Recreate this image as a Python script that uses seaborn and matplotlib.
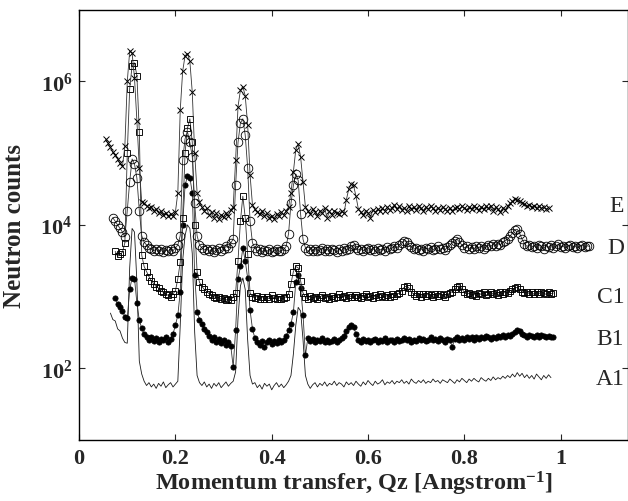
import numpy as np
import pandas as pd
import matplotlib
matplotlib.use("Agg")
import matplotlib.pyplot as plt
from matplotlib.ticker import NullLocator, FixedLocator
import seaborn as sns

# ---------------- data (log10 of neutron counts) ----------------
STEP = 0.005

E_start = 0.055
E_log = [
    5.20, 5.14, 5.08, 5.02, 4.97, 4.92, 4.86, 4.82, 5.10, 6.00,
    6.42, 6.40, 6.05, 5.45, 4.80, 4.32, 4.30, 4.27, 4.24, 4.25,
    4.20, 4.22, 4.17, 4.19, 4.14, 4.17, 4.12, 4.15, 4.12, 4.18,
    4.45, 5.60, 6.14, 6.36, 6.39, 6.28, 5.85, 5.00, 4.45, 4.32,
    4.25, 4.20, 4.23, 4.14, 4.18, 4.10, 4.16, 4.08, 4.14, 4.11,
    4.17, 4.13, 4.21, 4.25, 4.90, 5.65, 5.88, 5.93, 5.80, 5.40,
    4.70, 4.28, 4.22, 4.18, 4.15, 4.20, 4.12, 4.16, 4.10, 4.13,
    4.08, 4.15, 4.12, 4.18, 4.14, 4.20, 4.25, 4.45, 4.74, 5.05,
    5.13, 4.95, 4.60, 4.25, 4.20, 4.15, 4.22, 4.18, 4.12, 4.20,
    4.16, 4.23, 4.10, 4.19, 4.14, 4.20, 4.17, 4.15, 4.19, 4.16,
    4.35, 4.50, 4.57, 4.55, 4.40, 4.22, 4.18, 4.14, 4.20, 4.17,
    4.10, 4.21, 4.18, 4.22, 4.19, 4.23, 4.20, 4.25, 4.21, 4.24,
    4.28, 4.22, 4.26, 4.21, 4.24, 4.20, 4.26, 4.22, 4.25, 4.21,
    4.27, 4.23, 4.20, 4.25, 4.22, 4.26, 4.23, 4.20, 4.24, 4.21,
    4.25, 4.22, 4.19, 4.24, 4.20, 4.23, 4.25, 4.22, 4.26, 4.23,
    4.21, 4.25, 4.22, 4.27, 4.24, 4.21, 4.25, 4.22, 4.26, 4.23,
    4.27, 4.20, 4.25, 4.22, 4.18, 4.24, 4.21, 4.26, 4.30, 4.33,
    4.36, 4.35, 4.33, 4.30, 4.29, 4.27, 4.28, 4.25, 4.27, 4.24,
    4.26, 4.23, 4.25, 4.22, 4.24,
]

D_start = 0.070
D_log = [
    4.10, 4.05, 4.00, 3.95, 3.90, 3.83, 4.20, 4.60, 4.92, 4.85,
    4.65, 4.20, 3.85, 3.76, 3.72, 3.68, 3.66, 3.64, 3.66, 3.63,
    3.66, 3.62, 3.65, 3.63, 3.67, 3.64, 3.68, 3.72, 3.85, 4.90,
    5.20, 5.30, 5.15, 4.95, 4.30, 3.85, 3.72, 3.68, 3.65, 3.67,
    3.63, 3.66, 3.62, 3.65, 3.68, 3.64, 3.66, 3.70, 3.68, 3.75,
    3.80, 4.55, 5.15, 5.42, 5.48, 5.25, 4.80, 4.05, 3.75, 3.68,
    3.64, 3.66, 3.62, 3.65, 3.63, 3.66, 3.62, 3.64, 3.67, 3.63,
    3.64, 3.66, 3.70, 3.88, 4.30, 4.55, 4.71, 4.62, 4.15, 3.80,
    3.68, 3.63, 3.66, 3.64, 3.67, 3.63, 3.65, 3.68, 3.64, 3.66,
    3.63, 3.67, 3.65, 3.62, 3.66, 3.64, 3.68, 3.65, 3.67, 3.70,
    3.72, 3.68, 3.65, 3.67, 3.64, 3.66, 3.68, 3.65, 3.67, 3.64,
    3.68, 3.65, 3.67, 3.64, 3.69, 3.66, 3.68, 3.70, 3.68, 3.72,
    3.75, 3.78, 3.76, 3.72, 3.69, 3.66, 3.68, 3.65, 3.67, 3.64,
    3.68, 3.66, 3.69, 3.65, 3.67, 3.70, 3.66, 3.68, 3.65, 3.69,
    3.72, 3.75, 3.78, 3.80, 3.76, 3.72, 3.68, 3.70, 3.67, 3.69,
    3.66, 3.70, 3.68, 3.71, 3.67, 3.69, 3.72, 3.70, 3.73, 3.71,
    3.74, 3.72, 3.76, 3.78, 3.80, 3.84, 3.89, 3.93, 3.94, 3.88,
    3.80, 3.74, 3.70, 3.72, 3.69, 3.71, 3.68, 3.72, 3.70, 3.67,
    3.71, 3.69, 3.72, 3.68, 3.70, 3.73, 3.69, 3.71, 3.68, 3.70,
    3.72, 3.69, 3.71, 3.68, 3.70, 3.72, 3.69, 3.71, 3.70,
]

C1_start = 0.075
C1_log = [
    3.63, 3.56, 3.59, 3.62, 3.75, 5.00, 5.90, 6.22, 6.26, 6.08,
    5.30, 3.58, 3.42, 3.35, 3.28, 3.22, 3.18, 3.14, 3.12, 3.08,
    3.06, 3.03, 3.02, 3.00, 3.04, 3.08, 3.25, 3.48, 4.10, 5.00,
    5.35, 5.48, 5.15, 4.00, 3.35, 3.20, 3.14, 3.10, 3.07, 3.04,
    3.02, 3.00, 2.98, 2.99, 2.96, 2.98, 2.95, 2.97, 2.95, 3.00,
    3.05, 3.50, 4.05, 4.40, 4.10, 3.60, 3.05, 3.00, 2.98, 3.01,
    2.97, 3.00, 2.96, 2.99, 2.97, 3.02, 2.98, 2.96, 2.99, 2.97,
    2.98, 3.00, 3.04, 3.18, 3.35, 3.42, 3.40, 3.22, 3.05, 2.99,
    2.97, 3.01, 2.98, 3.00, 2.96, 2.99, 3.02, 2.98, 3.00, 2.97,
    3.01, 2.98, 3.00, 3.03, 2.99, 3.01, 2.98, 3.02, 3.00, 2.99,
    3.02, 3.00, 2.98, 3.01, 3.03, 2.99, 3.01, 2.98, 3.02, 3.00,
    3.03, 3.01, 2.99, 3.02, 3.00, 3.04, 3.01, 3.03, 3.05, 3.08,
    3.13, 3.15, 3.12, 3.07, 3.03, 3.01, 3.04, 3.00, 3.03, 3.01,
    3.04, 3.02, 3.00, 3.03, 3.01, 3.04, 3.02, 3.00, 3.03, 3.05,
    3.07, 3.10, 3.14, 3.15, 3.11, 3.06, 3.03, 3.05, 3.02, 3.04,
    3.01, 3.05, 3.03, 3.06, 3.02, 3.04, 3.07, 3.03, 3.05, 3.02,
    3.06, 3.04, 3.07, 3.05, 3.08, 3.10, 3.12, 3.13, 3.10, 3.07,
    3.05, 3.07, 3.04, 3.06, 3.03, 3.06, 3.04, 3.07, 3.05, 3.03,
    3.06, 3.04, 3.05,
]

B1_start = 0.075
B1_log = [
    2.98, 2.90, 2.85, 2.80, 2.72, 2.70, 3.10, 3.26, 3.25, 2.91,
    2.67, 2.56, 2.48, 2.43, 2.40, 2.44, 2.38, 2.42, 2.36, 2.41,
    2.39, 2.43, 2.37, 2.41, 2.48, 2.60, 2.74, 3.07, 4.00, 4.55,
    4.68, 4.66, 4.45, 3.30, 2.79, 2.68, 2.62, 2.55, 2.51, 2.45,
    2.40, 2.43, 2.37, 2.41, 2.35, 2.39, 2.33, 2.37, 2.31, 2.02,
    2.53, 3.24, 3.42, 3.68, 3.50, 3.26, 2.81, 2.55, 2.42, 2.36,
    2.33, 2.38, 2.30, 2.36, 2.39, 2.34, 2.38, 2.35, 2.40, 2.37,
    2.40, 2.45, 2.53, 2.62, 2.78, 3.20, 3.30, 3.12, 2.75, 2.18,
    2.42, 2.38, 2.41, 2.36, 2.40, 2.38, 2.42, 2.37, 2.40, 2.36,
    2.38, 2.41, 2.37, 2.40, 2.42, 2.45, 2.52, 2.58, 2.61, 2.58,
    2.48, 2.40, 2.37, 2.41, 2.38, 2.40, 2.36, 2.39, 2.41, 2.37,
    2.40, 2.38, 2.42, 2.37, 2.40, 2.39, 2.36, 2.41, 2.38, 2.40,
    2.42, 2.39, 2.41, 2.37, 2.40, 2.38, 2.42, 2.39, 2.41, 2.38,
    2.40, 2.43, 2.39, 2.41, 2.38, 2.42, 2.40, 2.37, 2.41, 2.39,
    2.30, 2.41, 2.43, 2.40, 2.42, 2.39, 2.43, 2.41, 2.44, 2.40,
    2.43, 2.41, 2.44, 2.42, 2.45, 2.43, 2.41, 2.44, 2.42, 2.45,
    2.43, 2.46, 2.44, 2.47, 2.45, 2.48, 2.51, 2.53, 2.52, 2.48,
    2.46, 2.44, 2.47, 2.45, 2.43, 2.46, 2.44, 2.47, 2.45, 2.43,
    2.45, 2.43, 2.44,
]

A1_start = 0.065
A1_log = [
    2.77, 2.68, 2.66, 2.55, 2.52, 2.42, 2.36, 2.35, 3.40, 3.95,
    3.90, 3.20, 2.10, 1.92, 1.82, 1.76, 1.80, 1.74, 1.78, 1.72,
    1.79, 1.75, 1.81, 1.73, 1.77, 1.80, 1.74, 1.78, 1.82, 2.60,
    3.50, 3.85, 4.00, 3.95, 3.60, 2.50, 1.90, 1.80, 1.76, 1.81,
    1.74, 1.78, 1.72, 1.79, 1.75, 1.80, 1.73, 1.77, 1.81, 1.75,
    1.79, 1.82, 1.95, 2.70, 3.15, 3.26, 3.10, 2.40, 1.90, 1.78,
    1.80, 1.73, 1.77, 1.71, 1.79, 1.75, 1.78, 1.70, 1.76, 1.80,
    1.74, 1.78, 1.73, 1.77, 1.82, 1.90, 2.20, 2.60, 2.85, 2.80,
    2.40, 1.90, 1.78, 1.72, 1.77, 1.80, 1.74, 1.79, 1.76, 1.81,
    1.75, 1.79, 1.77, 1.82, 1.76, 1.80, 1.78, 1.74, 1.81, 1.77,
    1.80, 1.76, 1.82, 1.78, 1.75, 1.81, 1.77, 1.83, 1.79, 1.76,
    1.82, 1.78, 1.80, 1.84, 1.77, 1.81, 1.79, 1.83, 1.78, 1.82,
    1.80, 1.84, 1.79, 1.82, 1.78, 1.85, 1.81, 1.79, 1.83, 1.80,
    1.84, 1.79, 1.82, 1.80, 1.85, 1.81, 1.83, 1.79, 1.84, 1.82,
    1.80, 1.85, 1.82, 1.79, 1.84, 1.81, 1.86, 1.83, 1.80, 1.85,
    1.82, 1.86, 1.83, 1.81, 1.87, 1.84, 1.82, 1.86, 1.83, 1.88,
    1.84, 1.87, 1.85, 1.89, 1.86, 1.90, 1.87, 1.92, 1.88, 1.94,
    1.89, 1.93, 1.87, 1.91, 1.86, 1.90, 1.85, 1.92, 1.88, 1.84,
    1.90, 1.86, 1.91, 1.87,
]

series_names = ["A1", "B1", "C1", "D", "E"]
label_log_y = {"E": 4.27, "D": 3.68, "C1": 3.00, "B1": 2.42, "A1": 1.86}

x_ticks = [0, 0.2, 0.4, 0.6, 0.8, 1.0]
x_tick_labels = ["0", "0.2", "0.4", "0.6", "0.8", "1"]
y_ticks = [1e2, 1e4, 1e6]
y_tick_labels = [r"$10^{2}$", r"$10^{4}$", r"$10^{6}$"]


def make_df(start, logs):
    q = np.round(start + STEP * np.arange(len(logs)), 4)
    return pd.DataFrame({"q": q, "counts": np.power(10.0, np.asarray(logs))})


frames = {
    "E": make_df(E_start, E_log),
    "D": make_df(D_start, D_log),
    "C1": make_df(C1_start, C1_log),
    "B1": make_df(B1_start, B1_log),
    "A1": make_df(A1_start, A1_log),
}

# ---------------- style ----------------
sns.set_style("ticks")
plt.rcParams["font.family"] = ["Liberation Serif", "DejaVu Serif"]
plt.rcParams["mathtext.fontset"] = "custom"
plt.rcParams["mathtext.rm"] = "Liberation Serif:bold"
plt.rcParams["mathtext.bf"] = "Liberation Serif:bold"
plt.rcParams["mathtext.it"] = "Liberation Serif:bold"
plt.rcParams["mathtext.default"] = "bf"

fig = plt.figure(figsize=(6.28, 5.02), dpi=100)
ax = fig.add_axes([0.126, 0.1215, 0.874, 0.857])

styles = {
    "A1": dict(marker=None, lw=0.6, color="0.1"),
    "B1": dict(marker="o", markersize=3.8, mfc="k", mec="k", mew=0.5, lw=0.6, color="0.2"),
    "C1": dict(marker="s", markersize=4.4, mfc="none", mec="k", mew=0.65, lw=0.6, color="0.2"),
    "D": dict(marker="o", markersize=6.2, mfc="none", mec="k", mew=0.6, lw=0.6, color="0.2"),
    "E": dict(marker="x", markersize=5.0, mfc="none", mec="k", mew=0.7, lw=0.6, color="0.2"),
}

for name in series_names:
    sns.lineplot(data=frames[name], x="q", y="counts", ax=ax, estimator=None,
                 sort=False, legend=False, **styles[name])

ax.set_yscale("log")
ax.set_xlim(0, 1.14)
ax.set_ylim(10, 1e7)
ax.yaxis.set_major_locator(FixedLocator(y_ticks))
ax.yaxis.set_minor_locator(NullLocator())
ax.set_yticklabels(y_tick_labels)
ax.set_xticks(x_ticks)
ax.set_xticklabels(x_tick_labels, fontweight="bold")
ax.tick_params(axis="both", direction="in", top=True, right=True, length=4,
               width=0.8, labelsize=16)
ax.tick_params(axis="x", pad=6)
ax.tick_params(axis="y", pad=5)
for s in ax.spines.values():
    s.set_linewidth(1.0)
    s.set_color("k")

ax.set_xlabel(r"Momentum transfer, Qz [Angstrom$^{-1}$]", fontsize=17.5,
              fontweight="bold", labelpad=0)
ax.set_ylabel("Neutron counts", fontsize=18, fontweight="bold", labelpad=10)

for name in series_names:
    ax.text(1.132, 10 ** label_log_y[name], name, ha="right", va="center",
            fontsize=17)

fig.savefig("out.png", dpi=100)
